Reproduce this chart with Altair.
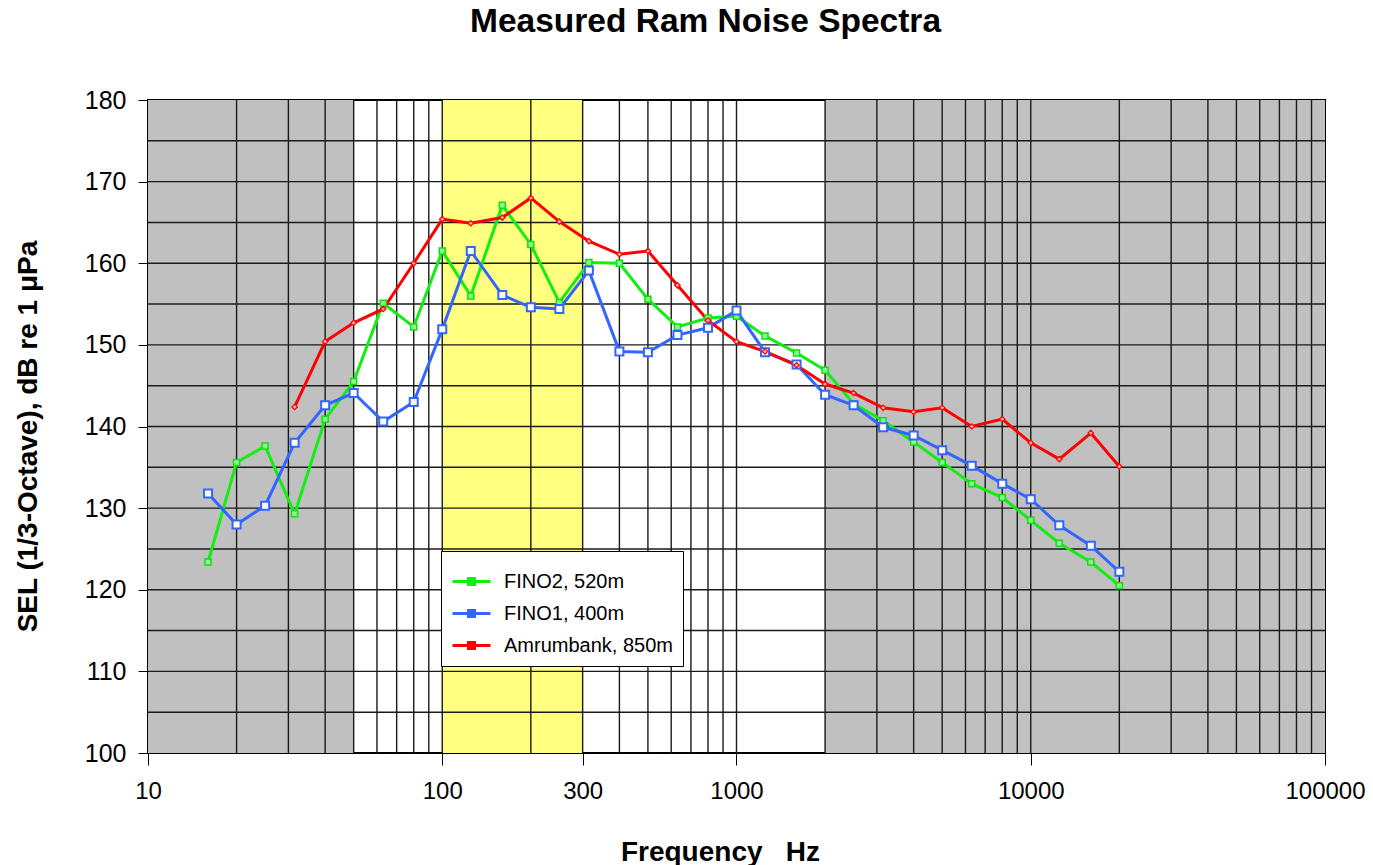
import altair as alt
import pandas as pd

# 1/3-octave band centre frequencies (Hz)
freqs = [16, 20, 25, 31.5, 40, 50, 63, 80, 100, 125, 160, 200, 250, 315, 400, 500,
         630, 800, 1000, 1250, 1600, 2000, 2500, 3150, 4000, 5000, 6300, 8000,
         10000, 12500, 16000, 20000]

fino2 = [123.4, 135.6, 137.6, 129.3, 140.9, 145.5, 155.1, 152.2, 161.5, 156.0, 167.1,
         162.3, 155.2, 160.1, 160.0, 155.6, 152.2, 153.3, 153.5, 151.1, 149.0, 146.9,
         142.8, 140.7, 138.1, 135.6, 133.0, 131.3, 128.5, 125.7, 123.4, 120.5]

fino1 = [131.8, 128.0, 130.3, 138.0, 142.6, 144.1, 140.6, 143.0, 151.9, 161.5, 156.1,
         154.6, 154.4, 159.1, 149.2, 149.1, 151.2, 152.1, 154.2, 149.1, 147.6, 143.9,
         142.6, 139.9, 138.9, 137.1, 135.2, 133.0, 131.1, 127.9, 125.4, 122.2]

amrum = [None, None, None, 142.4, 150.4, 152.7, 154.4, 160.0, 165.4, 164.9, 165.6,
         168.0, 165.1, 162.7, 161.1, 161.5, 157.3, 153.0, 150.4, 149.2, 147.5, 145.2,
         144.1, 142.3, 141.8, 142.3, 140.0, 140.9, 138.0, 136.0, 139.2, 135.1]

series_names = ["FINO2, 520m", "FINO1, 400m", "Amrumbank, 850m"]
series_colors = ["#11EE11", "#3366FF", "#FF0000"]

# shaded bands
gray_from = [10, 2000]
gray_to = [50, 100000]
yellow_from = [100]
yellow_to = [300]

# grid lines
vgrid = [20, 30, 40, 50, 60, 70, 80, 90, 100, 200, 300, 400, 500, 600, 700, 800, 900,
         1000, 2000, 3000, 4000, 5000, 6000, 7000, 8000, 9000, 10000, 20000, 30000,
         40000, 50000, 60000, 70000, 80000, 90000]
hgrid = [105, 110, 115, 120, 125, 130, 135, 140, 145, 150, 155, 160, 165, 170, 175]

x_ticks = [10, 100, 300, 1000, 10000, 100000]
y_ticks = [100, 110, 120, 130, 140, 150, 160, 170, 180]

rows = []
for name, vals in zip(series_names, [fino2, fino1, amrum]):
    for f, v in zip(freqs, vals):
        if v is not None:
            rows.append({"freq": f, "sel": v, "series": name})
df = pd.DataFrame(rows)

FONT = "Liberation Sans"
xscale = alt.Scale(type="log", domain=[10, 100000], nice=False)
yscale = alt.Scale(domain=[100, 180], nice=False, zero=False)

xaxis = alt.Axis(values=x_ticks, format="d", tickSize=12, tickColor="black", tickWidth=1,
                 domain=False, grid=False, labelFont=FONT, labelFontSize=24,
                 labelColor="black", labelPadding=14, labelFlush=False, labelOverlap=False,
                 title="Frequency\u00a0\u00a0\u00a0Hz", titleFont=FONT, titleFontSize=28,
                 titleFontWeight="bold", titleColor="black", titleX=572, titleY=107,
                 titleBaseline="alphabetic", titleAlign="center")
yaxis = alt.Axis(values=y_ticks, tickSize=10, tickColor="black", tickWidth=1,
                 domain=False, grid=False, labelFont=FONT, labelFontSize=25,
                 labelColor="black", labelPadding=12, labelFlush=False,
                 title="SEL (1/3-Octave), dB re 1 \u03bcPa", titleFont=FONT,
                 titleFontSize=28, titleFontWeight="bold", titleColor="black",
                 titleAngle=270, titleX=-120, titleY=336, titleBaseline="middle",
                 titleAlign="center")

gray_df = pd.DataFrame({"x1": gray_from, "x2": gray_to, "y1": [100] * len(gray_from),
                        "y2": [180] * len(gray_from)})
yellow_df = pd.DataFrame({"x1": yellow_from, "x2": yellow_to, "y1": [100], "y2": [180]})

gray = alt.Chart(gray_df).mark_rect(color="#C0C0C0").encode(
    x=alt.X("x1:Q", scale=xscale, axis=xaxis), x2="x2:Q",
    y=alt.Y("y1:Q", scale=yscale, axis=yaxis), y2="y2:Q")
yellow = alt.Chart(yellow_df).mark_rect(color="#FFFF80").encode(
    x=alt.X("x1:Q", scale=xscale), x2="x2:Q",
    y=alt.Y("y1:Q", scale=yscale), y2="y2:Q")

vrules = alt.Chart(pd.DataFrame({"f": vgrid})).mark_rule(color="#1a1a1a", strokeWidth=1.4).encode(
    x=alt.X("f:Q", scale=xscale))
hrules = alt.Chart(pd.DataFrame({"v": hgrid})).mark_rule(color="#1a1a1a", strokeWidth=1.4).encode(
    y=alt.Y("v:Q", scale=yscale))

color = alt.Color("series:N", sort=series_names,
                  scale=alt.Scale(domain=series_names, range=series_colors),
                  legend=alt.Legend(title=None, orient="none", legendX=293, legendY=451,
                                    fillColor="white", strokeColor="black", padding=10,
                                    labelFont=FONT, labelFontSize=20, labelColor="black",
                                    labelOffset=12, labelLimit=400,
                                    symbolType="M-1,0H1M-0.16,-0.16H0.16V0.16H-0.16Z",
                                    symbolSize=1444, symbolStrokeWidth=3, rowPadding=1))

lines = alt.Chart(df).mark_line(strokeWidth=3).encode(
    x=alt.X("freq:Q", scale=xscale), y=alt.Y("sel:Q", scale=yscale), color=color,
    order="freq:Q")

def pts(name, **kw):
    return alt.Chart(df).transform_filter(alt.datum.series == name).mark_point(**kw).encode(
        x=alt.X("freq:Q", scale=xscale), y=alt.Y("sel:Q", scale=yscale))

p_green = pts(series_names[0], shape="square", size=36, filled=True, fill="#8CFF8C",
              stroke="#11DD11", strokeWidth=1.5, opacity=1)
p_blue = pts(series_names[1], shape="square", size=64, filled=True, fill="white",
             stroke="#3366FF", strokeWidth=2, opacity=1)
p_red = pts(series_names[2], shape="diamond", size=30, filled=True, fill="#FFB0B0",
            stroke="#FF0000", strokeWidth=1.2, opacity=1)

chart = alt.layer(gray, yellow, vrules, hrules, lines, p_green, p_blue, p_red).properties(
    width=1177, height=653,
    autosize=alt.AutoSizeParams(type="none"),
    padding={"left": 148, "top": 100, "right": 48, "bottom": 112},
    title=alt.TitleParams("Measured Ram Noise Spectra", font=FONT, fontSize=33.5,
                          fontWeight="bold", color="black", anchor="middle", dx=-31,
                          offset=23, baseline="alphabetic"),
    background="white",
).configure_view(stroke="black", strokeWidth=2)

chart.save("out.html", embed_options={"renderer": "svg", "actions": False})
